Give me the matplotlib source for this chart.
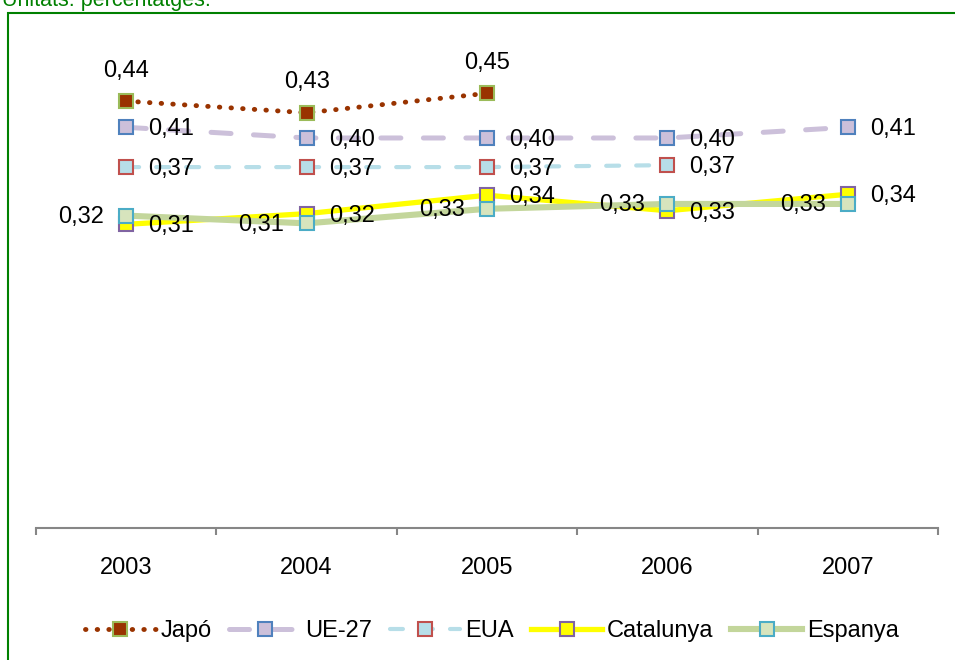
import numpy as np
import matplotlib
matplotlib.use("Agg")
import matplotlib.pyplot as plt
from matplotlib.patches import Rectangle

plt.rcParams['font.family'] = ['Liberation Sans', 'DejaVu Sans']

# dades
years = ['2003', '2004', '2005', '2006', '2007']
japo = [0.440, 0.428, 0.448, np.nan, np.nan]
ue27 = [0.413, 0.402, 0.402, 0.402, 0.413]
eua = [0.372, 0.372, 0.372, 0.374, np.nan]
catalunya = [0.313, 0.324, 0.343, 0.327, 0.344]
espanya = [0.322, 0.314, 0.329, 0.334, 0.334]

FS = 17
fig = plt.figure(figsize=(9.55, 6.6), dpi=100)
ax = fig.add_axes([36 / 955, 0.2, (938 - 36) / 955, 0.735])
x = np.arange(len(years))

series = [
    ('Japó', japo, dict(color='#993300', lw=3.5, linestyle=(0, (0.1, 2.3)),
                        dash_capstyle='round', mfc='#993300', mec='#9BBB59'), 'above'),
    ('UE-27', ue27, dict(color='#CCC0DA', lw=3.6, linestyle=(0, (4, 4.5)),
                         dash_capstyle='round', mfc='#CCC0DA', mec='#4F81BD'), 'right'),
    ('EUA', eua, dict(color='#B7DEE8', lw=3.0, linestyle=(0, (3.1, 4.1)),
                      dash_capstyle='round', mfc='#B7DEE8', mec='#C0504D'), 'right'),
    ('Catalunya', catalunya, dict(color='#FFFF00', lw=3.8, linestyle='-',
                                  mfc='#FFFF00', mec='#8064A2'), 'right'),
    ('Espanya', espanya, dict(color='#C3D69B', lw=4.4, linestyle='-',
                              mfc='#D7E4BD', mec='#4BACC6'), 'left'),
]

for name, vals, style, pos in series:
    ax.plot(x, vals, marker='s', ms=9.5, mew=1.5, label=name, **style)
    for xi, v in zip(x, vals):
        if np.isnan(v):
            continue
        txt = f"{v:.2f}".replace('.', ',')
        if pos == 'above':
            ax.annotate(txt, (xi, v), xytext=(0, 22), textcoords='offset points',
                        ha='center', va='center', fontsize=FS)
        elif pos == 'right':
            ax.annotate(txt, (xi, v), xytext=(16, -1.5), textcoords='offset points',
                        ha='left', va='center', fontsize=FS)
        else:
            ax.annotate(txt, (xi, v), xytext=(-16, -1), textcoords='offset points',
                        ha='right', va='center', fontsize=FS)

ax.set_xlim(-0.5, 4.5)
ax.set_ylim(0, 0.5)
for s in ['top', 'right', 'left']:
    ax.spines[s].set_visible(False)
ax.spines['bottom'].set_color('#868686')
ax.spines['bottom'].set_linewidth(1.5)
ax.set_yticks([])
ax.set_xticks(x)
ax.set_xticklabels(years, fontsize=FS)
ax.set_xticks(np.arange(-0.5, 5, 1), minor=True)
ax.tick_params(axis='x', which='major', length=0, pad=21)
ax.tick_params(axis='x', which='minor', length=5, width=1.5, color='#868686', direction='out')

fig.legend(loc='center', bbox_to_anchor=(0.515, 1 - 631 / 660), ncol=5, frameon=False,
           fontsize=FS, handlelength=3.0, handletextpad=0.2, columnspacing=0.75)

# marc verd i nota
fig.patches.append(Rectangle((8 / 955, -0.1), 1.2, 1.1 - 13 / 660, transform=fig.transFigure,
                             fill=False, edgecolor='#008000', lw=1.5))
fig.text(2 / 955, 1 - 6 / 660, 'Unitats: percentatges.', color='#008000', fontsize=15.5,
         ha='left', va='baseline')

fig.savefig('out.png', dpi=100)
